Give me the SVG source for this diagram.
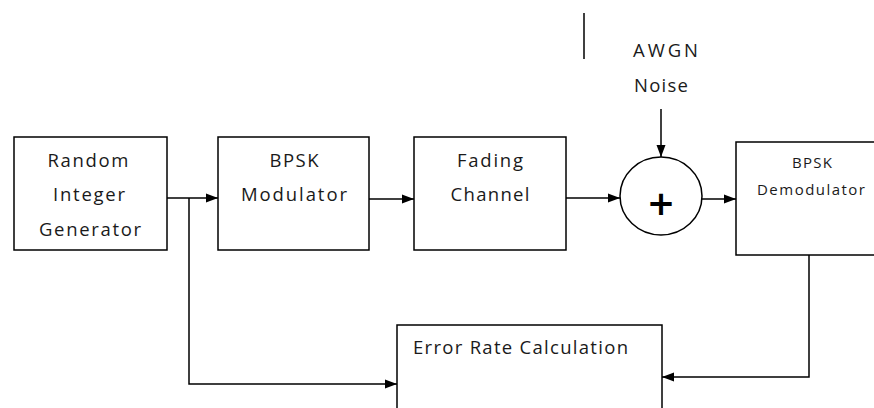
<svg xmlns="http://www.w3.org/2000/svg" width="874" height="408" viewBox="0 0 874 408">
<defs>
<style>
.box{fill:#fff;stroke:#000;stroke-width:1.5}
.t{font-family:"Open Sans","Noto Sans","DejaVu Sans",sans-serif;font-size:18.5px;fill:#1a1a1a;text-anchor:middle}
.s{font-size:15px}
.l{text-anchor:start}
.c{fill:none;stroke:#000;stroke-width:1.5}
.plus{font-family:"DejaVu Sans",sans-serif;font-size:34px;font-weight:bold;fill:#000;text-anchor:middle}
</style>
<marker id="ah" markerUnits="userSpaceOnUse" markerWidth="12" markerHeight="10" refX="12" refY="5" orient="auto">
<path d="M0,0.5 L12,5 L0,9.5 z" fill="#000"/>
</marker>
</defs>
<rect width="874" height="408" fill="#fff"/>
<g id="connectors">
<line class="c" x1="584" y1="13" x2="584" y2="59"/>
<path class="c" d="M167,198 H218" marker-end="url(#ah)"/>
<path class="c" d="M369,199 H414" marker-end="url(#ah)"/>
<path class="c" d="M566,198 H620" marker-end="url(#ah)"/>
<path class="c" d="M702,199 H736" marker-end="url(#ah)"/>
<path class="c" d="M661,109 V157" marker-end="url(#ah)"/>
<path class="c" d="M189,198 V384 H397" marker-end="url(#ah)"/>
<path class="c" d="M809,255 V377 H662" marker-end="url(#ah)"/>
</g>
<g id="rig">
<rect class="box" x="14" y="137" width="153" height="113"/>
<text class="t" x="88" y="167" textLength="81" lengthAdjust="spacing">Random</text>
<text class="t" x="89" y="201" textLength="72" lengthAdjust="spacing">Integer</text>
<text class="t" x="90" y="236" textLength="102" lengthAdjust="spacing">Generator</text>
</g>
<g id="mod">
<rect class="box" x="218" y="137" width="151" height="113"/>
<text class="t" x="294" y="167" textLength="49" lengthAdjust="spacing">BPSK</text>
<text class="t" x="294" y="201" textLength="106" lengthAdjust="spacing">Modulator</text>
</g>
<g id="fading">
<rect class="box" x="414" y="137" width="152" height="113"/>
<text class="t" x="490" y="167" textLength="66" lengthAdjust="spacing">Fading</text>
<text class="t" x="490" y="201" textLength="79" lengthAdjust="spacing">Channel</text>
</g>
<g id="noise">
<text class="t l" x="633" y="57" textLength="65" lengthAdjust="spacing">AWGN</text>
<text class="t l" x="634" y="92" textLength="54" lengthAdjust="spacing">Noise</text>
</g>
<g id="sum">
<ellipse cx="661" cy="196" rx="41" ry="39" fill="#fff" stroke="#000" stroke-width="1.5"/>
<text class="plus" x="661" y="215">+</text>
</g>
<g id="demod">
<rect class="box" x="736" y="142" width="146" height="113"/>
<text class="t s" x="812" y="168" textLength="40" lengthAdjust="spacing">BPSK</text>
<text class="t s" x="811" y="195" textLength="108" lengthAdjust="spacing">Demodulator</text>
</g>
<g id="err">
<rect class="box" x="397" y="325" width="265" height="95"/>
<text class="t l" x="413" y="354" textLength="215" lengthAdjust="spacing">Error Rate Calculation</text>
</g>
</svg>
